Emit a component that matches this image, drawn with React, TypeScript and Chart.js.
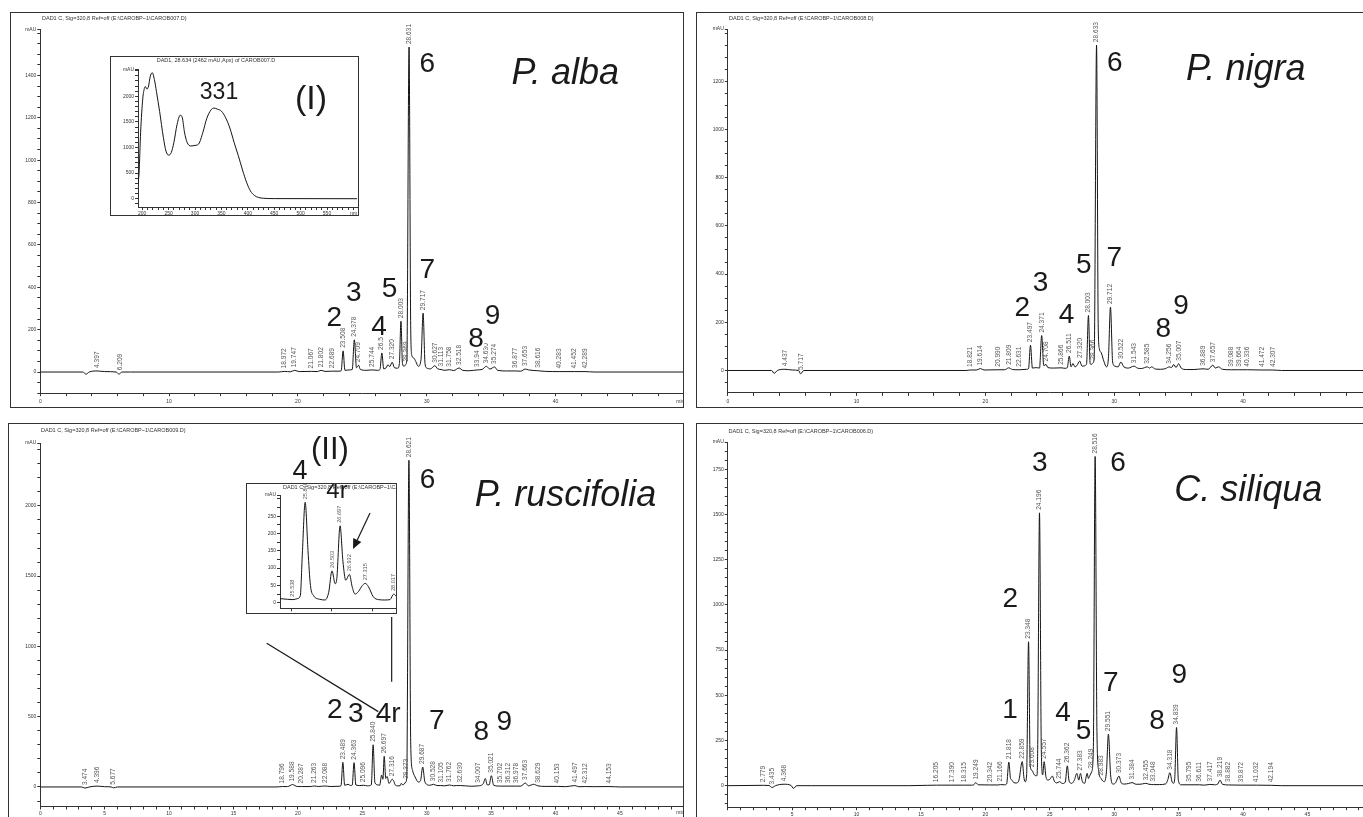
import React, { useEffect, useRef } from 'react';
import { Chart, registerables } from 'chart.js';

Chart.register(...registerables);

const SANS = '"Liberation Sans", Arial, Helvetica, sans-serif';
type Pair = [number, number];

// ---------------- P. alba (top left) ----------------
const albaTrace: Pair[] = [
  [0, 0], [3.3, 0], [3.55, -10], [3.8, 0], [4.4, 5], [5.0, 2], [5.9, 0], [6.1, -10], [6.35, 0], [7, 0],
  [18.5, 0], [18.97, 3], [19.4, 1], [19.75, 8], [20.1, 2], [21.07, 3], [21.5, 2], [21.8, 8], [22.1, 3],
  [22.69, 4], [23.2, 4], [23.36, 6], [23.51, 100], [23.65, 8], [24.0, 10], [24.22, 12], [24.38, 152],
  [24.55, 20], [24.71, 32], [24.85, 12], [25.3, 8], [25.74, 10], [26.2, 8], [26.37, 12], [26.52, 90],
  [26.66, 15], [26.85, 20], [27.0, 35], [27.12, 25], [27.32, 46], [27.5, 20], [27.75, 18], [27.88, 40],
  [28.0, 240], [28.12, 40], [28.25, 27], [28.37, 35], [28.46, 60], [28.63, 1534], [28.76, 200],
  [28.85, 78], [29.0, 66], [29.15, 50], [29.35, 27], [29.56, 60], [29.72, 278], [29.87, 40], [30.0, 19],
  [30.3, 15], [30.63, 30], [30.85, 15], [31.11, 12], [31.4, 8], [31.76, 11], [32.1, 7], [32.52, 19],
  [32.8, 8], [33.3, 6], [33.94, 10], [34.3, 12], [34.63, 27], [34.9, 14], [35.27, 24], [35.5, 8],
  [36.2, 5], [36.88, 5], [37.3, 4], [37.65, 14], [37.9, 10], [38.62, 6], [39.2, 3], [40.28, 2],
  [41.45, 2], [42.29, 2], [43, 0], [50, 0],
];
const albaRT = ['4.397', '6.209', '18.972', '19.747', '21.067', '21.802', '22.689', '23.508', '24.378',
  '24.709', '25.744', '26.5', '27.320', '28.003', '28.369', '28.631', '29.717', '30.627', '31.113',
  '31.758', '32.518', '33.94', '34.630', '35.274', '36.877', '37.653', '38.616', '40.283', '41.452', '42.289'];
const albaPeakNames = ['2', '3', '4', '5', '6', '7', '8', '9'];
const albaPeakTimes = [22.82, 24.33, 26.29, 27.12, 30.05, 30.05, 33.83, 35.11];
const albaPeakLevels = [252, 370, 209, 389, 1451, 481, 155, 263];

// ---------------- P. nigra (top right) ----------------
const nigraTrace: Pair[] = [
  [0, 0], [3.4, 0], [3.6, -12], [3.85, 0], [4.44, 5], [5.0, 2], [5.5, 0], [5.65, -14], [5.9, 0], [7, 0],
  [18.5, 0], [18.82, 2], [19.3, 2], [19.61, 8], [19.9, 2], [20.99, 3], [21.5, 3], [21.81, 11], [22.1, 4],
  [22.63, 3], [23.2, 5], [23.35, 8], [23.5, 105], [23.65, 10], [23.95, 12], [24.2, 10], [24.37, 145],
  [24.53, 20], [24.71, 25], [24.85, 12], [25.3, 10], [25.87, 11], [26.2, 9], [26.36, 12], [26.51, 60],
  [26.65, 15], [26.8, 29], [26.95, 15], [27.1, 20], [27.32, 39], [27.5, 18], [27.85, 25], [28.0, 228],
  [28.13, 30], [28.2, 25], [28.37, 32], [28.45, 60], [28.63, 1350], [28.76, 180], [28.85, 90], [29.0, 73],
  [29.2, 38], [29.4, 15], [29.55, 50], [29.71, 263], [29.88, 35], [30.05, 18], [30.3, 15], [30.52, 35],
  [30.75, 15], [31.1, 10], [31.54, 18], [31.8, 10], [32.1, 8], [32.58, 15], [32.75, 10], [32.9, 15],
  [33.2, 6], [33.6, 5], [34.0, 8], [34.26, 15], [34.45, 12], [34.62, 25], [34.8, 12], [35.0, 28],
  [35.2, 10], [35.6, 4], [36.2, 4], [36.89, 7], [37.3, 5], [37.66, 22], [37.85, 10], [38.1, 15],
  [38.4, 5], [39.09, 3], [39.66, 3], [40.34, 3], [41.47, 2], [42.31, 2], [43, 0], [50, 0],
];
const nigraRT = ['4.437', '5.717', '18.821', '19.614', '20.990', '21.809', '22.631', '23.497', '24.371',
  '24.708', '25.866', '26.511', '27.320', '28.003', '28.366', '28.633', '29.712', '30.522', '31.543',
  '32.585', '34.256', '35.007', '36.889', '37.657', '39.088', '39.664', '40.336', '41.472', '42.307'];
const nigraPeakNames = ['2', '3', '4', '5', '6', '7', '8', '9'];
const nigraPeakTimes = [22.86, 24.29, 26.29, 27.63, 30.05, 30.0, 33.82, 35.19];
const nigraPeakLevels = [259, 360, 229, 437, 1275, 464, 171, 268];

// ---------------- P. ruscifolia (bottom left) ----------------
const ruscTrace: Pair[] = [
  [0, 0], [3.2, 0], [3.47, -8], [3.8, 0], [4.4, 6], [5.0, 2], [5.5, 0], [5.68, -6], [6.0, 0],
  [18.3, 0], [18.8, 3], [19.2, 3], [19.59, 17], [19.95, 3], [20.29, 3], [21.0, 3], [21.26, 7], [21.6, 3],
  [22.09, 7], [22.5, 3], [23.2, 5], [23.35, 10], [23.49, 175], [23.63, 12], [23.9, 19], [24.1, 10],
  [24.22, 14], [24.36, 173], [24.5, 14], [24.8, 10], [25.1, 12], [25.4, 8], [25.7, 15], [25.84, 300],
  [25.98, 30], [26.2, 15], [26.35, 12], [26.5, 85], [26.6, 55], [26.7, 218], [26.82, 60], [26.93, 75],
  [27.07, 25], [27.15, 32], [27.32, 55], [27.45, 40], [27.55, 15], [27.75, 8], [27.93, 8], [28.02, 25],
  [28.15, 15], [28.25, 20], [28.37, 35], [28.45, 70], [28.62, 2324], [28.76, 300], [28.9, 118],
  [29.1, 71], [29.35, 35], [29.52, 45], [29.69, 142], [29.85, 40], [30.0, 19], [30.25, 12], [30.53, 19],
  [30.8, 10], [31.1, 10], [31.4, 8], [31.76, 14], [32.1, 8], [32.3, 10], [32.63, 10], [33.0, 8],
  [33.5, 5], [34.0, 8], [34.2, 10], [34.4, 25], [34.55, 60], [34.7, 15], [34.85, 15], [35.02, 80],
  [35.2, 12], [35.7, 6], [36.31, 6], [36.98, 6], [37.3, 6], [37.66, 28], [37.9, 8], [38.3, 19],
  [38.63, 8], [39.2, 4], [40.15, 4], [40.8, 2], [41.5, 10], [41.8, 2], [42.31, 3], [43, 2], [44.15, 3],
  [45, 0], [50, 0],
];
const ruscRT = ['3.474', '4.396', '5.677', '18.796', '19.588', '20.287', '21.263', '22.088', '23.489',
  '24.363', '25.096', '25.840', '26.697', '27.316', '28.373', '28.621', '29.687', '30.528', '31.105',
  '31.762', '32.630', '34.007', '35.021', '35.702', '36.312', '36.978', '37.663', '38.629', '40.153',
  '41.497', '42.312', '44.153'];
const ruscPeakNames = ['2', '3', '4r', '6', '7', '8', '9', '4', '(II)'];
const ruscPeakTimes = [22.86, 24.49, 27.01, 30.06, 30.78, 34.23, 36.03, 20.16, 22.49];
const ruscPeakLevels = [544, 520, 520, 2183, 466, 390, 461, 2247, 2397];

// inset (II): zoom of 25.2 - 28.1 min
const ruscZoomTrace: Pair[] = [
  [25.22, 12], [25.4, 10], [25.54, 9], [25.65, 12], [25.72, 20], [25.77, 140], [25.84, 290], [25.91, 150],
  [25.97, 50], [26.05, 20], [26.2, 10], [26.33, 8], [26.42, 30], [26.5, 92], [26.58, 55], [26.62, 70],
  [26.7, 222], [26.77, 120], [26.84, 65], [26.93, 82], [27.0, 45], [27.07, 25], [27.15, 32], [27.25, 50],
  [27.32, 56], [27.4, 46], [27.52, 17], [27.65, 9], [27.8, 8], [27.93, 9], [28.02, 25], [28.1, 17],
];
const ruscZoomRT = ['25.538', '25.840', '26.503', '26.697', '26.932', '27.315', '28.017'];

// ---------------- C. siliqua (bottom right) ----------------
const siliTrace: Pair[] = [
  [0, 0], [2.78, 2], [3.2, 1], [3.44, -10], [3.7, 0], [4.37, 8], [4.9, 2], [5.1, -15], [5.35, 0], [6.5, 0],
  [14, 0], [15.5, 2], [16.2, 3], [17.39, 3], [18.32, 3], [18.9, 3], [19.1, 5], [19.25, 17], [19.45, 5],
  [20.34, 4], [21.0, 4], [21.17, 6], [21.5, 5], [21.65, 10], [21.82, 130], [21.95, 40], [22.05, 32],
  [22.2, 17], [22.4, 15], [22.6, 30], [22.86, 133], [23.0, 40], [23.1, 22], [23.2, 60], [23.35, 796],
  [23.48, 110], [23.61, 85], [23.8, 60], [24.0, 55], [24.06, 200], [24.2, 1509], [24.34, 200],
  [24.45, 60], [24.56, 133], [24.7, 50], [24.85, 31], [25.0, 35], [25.2, 53], [25.35, 25], [25.55, 15],
  [25.74, 22], [26.0, 12], [26.2, 20], [26.36, 110], [26.5, 25], [26.7, 13], [26.9, 30], [27.1, 68],
  [27.25, 31], [27.38, 68], [27.52, 25], [27.7, 13], [27.9, 68], [28.0, 40], [28.1, 55], [28.25, 77],
  [28.38, 200], [28.52, 1821], [28.66, 300], [28.8, 80], [28.98, 40], [29.23, 22], [29.4, 80],
  [29.55, 285], [29.72, 60], [29.9, 9], [30.1, 15], [30.37, 53], [30.55, 15], [30.8, 9], [31.1, 12],
  [31.38, 17], [31.7, 8], [32.0, 8], [32.2, 10], [32.46, 13], [32.7, 8], [33.05, 6], [33.5, 6],
  [34.0, 10], [34.15, 30], [34.32, 72], [34.5, 20], [34.6, 13], [34.7, 40], [34.84, 322], [34.98, 30],
  [35.2, 5], [35.8, 5], [36.61, 5], [37.0, 3], [37.42, 7], [37.8, 5], [38.05, 10], [38.22, 31],
  [38.4, 8], [38.88, 4], [39.87, 3], [41.03, 3], [42.19, 2], [43, 0], [50, 0],
];
const siliRT = ['2.779', '3.435', '4.368', '16.205', '17.390', '18.315', '19.249', '20.342', '21.166',
  '21.818', '22.859', '23.348', '23.608', '24.196', '24.557', '25.744', '26.362', '27.383', '28.249',
  '28.516', '28.983', '29.551', '30.373', '31.384', '32.455', '33.048', '34.318', '34.839', '35.795',
  '36.611', '37.417', '38.219', '38.882', '39.872', '41.032', '42.194'];
const siliPeakNames = ['1', '2', '3', '4', '5', '6', '7', '8', '9'];
const siliPeakTimes = [21.92, 21.93, 24.23, 26.03, 27.62, 30.3, 29.74, 33.33, 35.05];
const siliPeakLevels = [419, 1031, 1784, 400, 299, 1784, 566, 355, 613];

// ---------------- inset (I): UV spectrum ----------------
const uvSpectrum: Pair[] = [
  [192, 300], [194, 500], [197, 1300], [201, 1950], [204, 2150], [206, 2190], [209, 2140], [212, 2200],
  [215, 2380], [219, 2460], [223, 2330], [227, 2090], [233, 1700], [240, 1200], [245, 930], [250, 850],
  [255, 900], [260, 1100], [266, 1450], [272, 1630], [276, 1580], [280, 1300], [285, 1100], [292, 1030],
  [300, 1040], [307, 1070], [315, 1300], [322, 1560], [330, 1730], [336, 1770], [342, 1750], [350, 1710],
  [358, 1580], [366, 1380], [374, 1100], [382, 840], [390, 560], [398, 310], [405, 150], [413, 60],
  [420, 25], [430, 8], [450, 2], [607, 0],
];
const uvNames = ['331', '(I)'];
const uvNameWavelengths = [345.4, 519.6];
const uvNameLevels = [2070, 1928];

// ---------------- types & helpers ----------------
interface AxisSpec {
  min: number; max: number; ticks: number[]; label: (v: number) => string; font: number; end?: string;
}
interface NumLabel { text: string; t: number; v: number; size: number; knock: boolean; }
interface PageText {
  text: string; x: number; y: number; font: string; color: string;
  align: CanvasTextAlign; baseline: CanvasTextBaseline;
}
interface Spec {
  box: { left: number; top: number; width: number; height: number };
  plot: { left: number; right: number; top: number; bottom: number };
  yw: number; xh: number; z: number; xpad: number;
  x: AxisSpec; y: AxisSpec;
  trace: Pair[];
  rt: string[]; rtSize: number;
  nums: NumLabel[];
  texts: PageText[];
  lines: { t1: number; v1: number; t2: number; v2: number }[];
  arrows: { x1: number; y1: number; x2: number; y2: number }[];
}

const isMult = (v: number, m: number) => Math.abs(v / m - Math.round(v / m)) < 1e-6;
function stepTicks(min: number, max: number, step: number, withMax: boolean): number[] {
  const out: number[] = [];
  for (let v = Math.ceil(min / step - 1e-9) * step; v <= max + 1e-9; v += step) out.push(+v.toFixed(6));
  if (withMax && Math.abs(out[out.length - 1] - max) > 1e-6) out.push(max);
  return out;
}
function yAxis(min: number, max: number, step: number, major: number, labelMax: number, font: number): AxisSpec {
  return {
    min, max, font, ticks: stepTicks(min, max, step, true),
    label: (v) => (Math.abs(v - max) < 1e-6 ? 'mAU' : v >= 0 && v <= labelMax + 1e-6 && isMult(v, major) ? String(v) : ''),
  };
}
function xAxis(min: number, max: number, step: number, major: number, labelMin: number, labelMax: number, font: number, end: string): AxisSpec {
  return {
    min, max, font, end, ticks: stepTicks(min, max, step, false),
    label: (v) => (v >= labelMin - 1e-6 && v <= labelMax + 1e-6 && isMult(v, major) ? String(v) : ''),
  };
}
function numLabels(names: string[], times: number[], levels: number[], size: number, knock: boolean): NumLabel[] {
  return names.map((text, i) => ({ text, t: times[i], v: levels[i], size, knock }));
}
function interp(tr: Pair[], t: number): number {
  for (let i = 1; i < tr.length; i++) {
    if (tr[i][0] >= t) {
      const [t0, v0] = tr[i - 1];
      const [t1, v1] = tr[i];
      return v0 + ((v1 - v0) * (t - t0)) / (t1 - t0 || 1);
    }
  }
  return 0;
}
const titleText = (x: number, y: number, text: string, align: CanvasTextAlign = 'left'): PageText => ({
  text, x, y, font: `5.5px ${SANS}`, color: '#333', align, baseline: 'middle',
});
const speciesText = (x: number, y: number, text: string): PageText => ({
  text, x, y, font: `italic 36px ${SANS}`, color: '#1a1a1a', align: 'left', baseline: 'alphabetic',
});

// ---------------- panel specs ----------------
const MAIN_FONT = 5;
const specs: Spec[] = [
  {
    box: { left: 10, top: 12, width: 674, height: 396 },
    plot: { left: 40.3, right: 684.3, top: 29.9, bottom: 393.2 }, yw: 26, xh: 14, z: 1, xpad: 2.5,
    x: xAxis(0, 50, 2, 10, 0, 40, MAIN_FONT, 'min'),
    y: yAxis(-100, 1615, 50, 200, 1400, MAIN_FONT),
    trace: albaTrace, rt: albaRT, rtSize: 6.6,
    nums: numLabels(albaPeakNames, albaPeakTimes, albaPeakLevels, 28, true),
    texts: [titleText(42, 18.5, 'DAD1 C, Sig=320,8 Ref=off (E:\\CAROBP~1\\CAROB007.D)'), speciesText(511.5, 84, 'P. alba')],
    lines: [], arrows: [],
  },
  {
    box: { left: 696, top: 12, width: 700, height: 396 },
    plot: { left: 727.8, right: 1371.8, top: 29, bottom: 392.9 }, yw: 26, xh: 14, z: 1, xpad: 2.5,
    x: xAxis(0, 50, 2, 10, 0, 40, MAIN_FONT, 'min'),
    y: yAxis(-93, 1417, 50, 200, 1200, MAIN_FONT),
    trace: nigraTrace, rt: nigraRT, rtSize: 6.6,
    nums: numLabels(nigraPeakNames, nigraPeakTimes, nigraPeakLevels, 28, true),
    texts: [titleText(729, 18, 'DAD1 C, Sig=320,8 Ref=off (E:\\CAROBP~1\\CAROB008.D)'), speciesText(1186, 80, 'P. nigra')],
    lines: [], arrows: [],
  },
  {
    box: { left: 8, top: 423, width: 676, height: 410 },
    plot: { left: 40.3, right: 684.3, top: 443, bottom: 806.5 }, yw: 26, xh: 14, z: 1, xpad: 1,
    x: xAxis(0, 50, 1, 5, 0, 45, MAIN_FONT, 'min'),
    y: yAxis(-139, 2447, 100, 500, 2000, MAIN_FONT),
    trace: ruscTrace, rt: ruscRT, rtSize: 6.6,
    nums: [
      ...numLabels(ruscPeakNames.slice(0, 7), ruscPeakTimes.slice(0, 7), ruscPeakLevels.slice(0, 7), 28, true),
      ...numLabels(ruscPeakNames.slice(7, 8), ruscPeakTimes.slice(7, 8), ruscPeakLevels.slice(7, 8), 27, false),
      ...numLabels(ruscPeakNames.slice(8), ruscPeakTimes.slice(8), ruscPeakLevels.slice(8), 31, false),
    ],
    texts: [titleText(41, 430, 'DAD1 C, Sig=320,8 Ref=off (E:\\CAROBP~1\\CAROB009.D)'), speciesText(474.8, 506, 'P. ruscifolia')],
    lines: [
      { t1: 17.58, v1: 1022, t2: 26.24, v2: 536 },
      { t1: 27.28, v1: 1209, t2: 27.28, v2: 749 },
    ],
    arrows: [],
  },
  {
    box: { left: 696, top: 423, width: 700, height: 410 },
    plot: { left: 727.8, right: 1371.8, top: 442, bottom: 807.2 }, yw: 26, xh: 14, z: 1, xpad: 1,
    x: xAxis(0, 50, 1, 5, 5, 45, MAIN_FONT, 'min'),
    y: yAxis(-119, 1901, 50, 250, 1750, MAIN_FONT),
    trace: siliTrace, rt: siliRT, rtSize: 6.6,
    nums: numLabels(siliPeakNames, siliPeakTimes, siliPeakLevels, 28, true),
    texts: [titleText(728.5, 431, 'DAD1 C, Sig=320,8 Ref=off (E:\\CAROBP~1\\CAROB006.D)'), speciesText(1174.3, 501, 'C. siliqua')],
    lines: [], arrows: [],
  },
  {
    box: { left: 110, top: 56, width: 249, height: 160 },
    plot: { left: 138, right: 357.1, top: 69.5, bottom: 207 }, yw: 20, xh: 8, z: 2, xpad: 1,
    x: xAxis(192, 607, 10, 50, 200, 550, 5, 'nm'),
    y: yAxis(-162, 2523, 100, 500, 2000, 5),
    trace: uvSpectrum, rt: [], rtSize: 6,
    nums: [
      ...numLabels(uvNames.slice(0, 1), uvNameWavelengths.slice(0, 1), uvNameLevels.slice(0, 1), 23, false),
      ...numLabels(uvNames.slice(1), uvNameWavelengths.slice(1), uvNameLevels.slice(1), 34, false),
    ],
    texts: [titleText(216, 60.5, 'DAD1, 28.634 (2462 mAU,Apx) of CAROB007.D', 'center')],
    lines: [], arrows: [],
  },
  {
    box: { left: 246, top: 483, width: 151, height: 131 },
    plot: { left: 280, right: 396.9, top: 495, bottom: 608.3 }, yw: 20, xh: 8, z: 2, xpad: 1,
    x: { min: 25.22, max: 28.1, ticks: [25.5, 26.5, 27.5], label: (v) => (v === 25.5 ? '25.5' : ''), font: 5, end: 'min' },
    y: yAxis(-16, 311, 25, 50, 250, 5),
    trace: ruscZoomTrace, rt: ruscZoomRT, rtSize: 5.6,
    nums: [],
    texts: [
      titleText(283, 487.5, 'DAD1 C, Sig=320,8 Ref=off (E:\\CAROBP~1\\CAROB009.D)'),
      { text: '4r', x: 337, y: 491, font: `24px ${SANS}`, color: '#1a1a1a', align: 'center', baseline: 'middle' },
    ],
    lines: [],
    arrows: [{ x1: 370, y1: 513, x2: 353, y2: 549 }],
  },
];

// ---------------- chart building ----------------
function makeAnnotPlugin(spec: Spec, cl: number, ct: number) {
  return {
    id: 'annot',
    afterDraw(chart: any) {
      const ctx: CanvasRenderingContext2D = chart.ctx;
      const xs = chart.scales.x;
      const ys = chart.scales.y;
      ctx.save();
      // retention-time labels, rotated
      ctx.font = `${spec.rtSize}px ${SANS}`;
      ctx.fillStyle = '#555';
      ctx.textAlign = 'left';
      ctx.textBaseline = 'middle';
      for (const s of spec.rt) {
        const t = parseFloat(s);
        let v = interp(spec.trace, t);
        for (const [pt, pv] of spec.trace) if (Math.abs(pt - t) <= 0.07) v = Math.max(v, pv);
        const px = xs.getPixelForValue(t);
        const py = ys.getPixelForValue(v) - 3;
        ctx.save();
        ctx.translate(px, py);
        ctx.rotate(-Math.PI / 2);
        ctx.fillText(s, 0, 0);
        ctx.restore();
      }
      // peak numbers
      ctx.textAlign = 'center';
      ctx.textBaseline = 'middle';
      for (const n of spec.nums) {
        ctx.font = `${n.size}px ${SANS}`;
        const px = xs.getPixelForValue(n.t);
        const py = ys.getPixelForValue(n.v);
        if (n.knock) {
          const m = ctx.measureText(n.text);
          ctx.fillStyle = '#fff';
          ctx.fillRect(px - m.actualBoundingBoxLeft - 1, py - m.actualBoundingBoxAscent - 1,
            m.actualBoundingBoxLeft + m.actualBoundingBoxRight + 2, m.actualBoundingBoxAscent + m.actualBoundingBoxDescent + 2);
        }
        ctx.fillStyle = '#1a1a1a';
        ctx.fillText(n.text, px, py);
      }
      // free texts (page coordinates)
      for (const tx of spec.texts) {
        ctx.font = tx.font;
        ctx.fillStyle = tx.color;
        ctx.textAlign = tx.align;
        ctx.textBaseline = tx.baseline;
        ctx.fillText(tx.text, tx.x - cl, tx.y - ct);
      }
      // axis end label
      if (spec.x.end) {
        ctx.font = `${spec.x.font}px ${SANS}`;
        ctx.fillStyle = '#333';
        ctx.textAlign = 'right';
        ctx.textBaseline = 'top';
        ctx.fillText(spec.x.end, xs.right, ys.bottom + 3 + spec.xpad);
      }
      // lines in data coordinates
      ctx.strokeStyle = '#1a1a1a';
      ctx.lineWidth = 1.2;
      for (const l of spec.lines) {
        ctx.beginPath();
        ctx.moveTo(xs.getPixelForValue(l.t1), ys.getPixelForValue(l.v1));
        ctx.lineTo(xs.getPixelForValue(l.t2), ys.getPixelForValue(l.v2));
        ctx.stroke();
      }
      // arrows in page coordinates
      for (const a of spec.arrows) {
        const x1 = a.x1 - cl, y1 = a.y1 - ct, x2 = a.x2 - cl, y2 = a.y2 - ct;
        const ang = Math.atan2(y2 - y1, x2 - x1);
        const hl = 10, hw = 4.5;
        const bx = x2 - hl * Math.cos(ang), by = y2 - hl * Math.sin(ang);
        ctx.beginPath();
        ctx.moveTo(x1, y1);
        ctx.lineTo(bx, by);
        ctx.stroke();
        ctx.beginPath();
        ctx.moveTo(x2, y2);
        ctx.lineTo(bx + hw * Math.sin(ang), by - hw * Math.cos(ang));
        ctx.lineTo(bx - hw * Math.sin(ang), by + hw * Math.cos(ang));
        ctx.closePath();
        ctx.fillStyle = '#1a1a1a';
        ctx.fill();
      }
      ctx.restore();
    },
  };
}

function geometry(spec: Spec) {
  const cl = spec.box.left + 1;
  const ct = spec.box.top + 1;
  const cw = Math.ceil(spec.plot.right + 25 - cl);
  const ch = Math.ceil(spec.plot.bottom + spec.xh + 6 - ct);
  const padding = {
    left: spec.plot.left - spec.yw - cl,
    top: spec.plot.top - ct,
    right: cl + cw - spec.plot.right,
    bottom: ct + ch - spec.plot.bottom - spec.xh,
  };
  return { cl, ct, cw, ch, padding };
}

function buildConfig(spec: Spec): any {
  const { cl, ct, padding } = geometry(spec);
  const axisCommon = (a: AxisSpec, pad: number) => ({
    type: 'linear',
    min: a.min,
    max: a.max,
    bounds: 'data',
    afterBuildTicks: (scale: any) => {
      scale.ticks = a.ticks.map((value) => ({ value }));
    },
    grid: { display: true, drawOnChartArea: false, drawTicks: true, tickLength: 3, tickColor: '#333', color: '#333', lineWidth: 1 },
    border: { display: true, color: '#333', width: 1 },
    ticks: {
      autoSkip: false, maxRotation: 0, minRotation: 0, padding: pad,
      color: '#333', font: { size: a.font, family: SANS },
      callback: (value: number) => a.label(Number(value)),
    },
  });
  return {
    type: 'line',
    data: {
      datasets: [{
        data: spec.trace.map(([x, y]) => ({ x, y })),
        borderColor: '#151515',
        borderWidth: 1,
        pointRadius: 0,
        fill: false,
        cubicInterpolationMode: 'monotone',
      }],
    },
    options: {
      animation: false,
      responsive: false,
      maintainAspectRatio: false,
      events: [],
      layout: { padding },
      plugins: { legend: { display: false }, tooltip: { enabled: false }, title: { display: false } },
      scales: {
        x: { ...axisCommon(spec.x, spec.xpad), position: 'bottom', afterFit: (s: any) => { s.height = spec.xh; } },
        y: { ...axisCommon(spec.y, 1), position: 'left', afterFit: (s: any) => { s.width = spec.yw; } },
      },
    },
    plugins: [makeAnnotPlugin(spec, cl, ct)],
  };
}

function ChartBox({ spec }: { spec: Spec }) {
  const ref = useRef<HTMLCanvasElement>(null);
  const { cl, ct, cw, ch } = geometry(spec);
  useEffect(() => {
    const chart = new Chart(ref.current as HTMLCanvasElement, buildConfig(spec));
    return () => chart.destroy();
  }, [spec]);
  return (
    <div
      style={{
        position: 'absolute', left: spec.box.left, top: spec.box.top, width: spec.box.width, height: spec.box.height,
        border: '1px solid #333', boxSizing: 'border-box', overflow: 'hidden', background: '#fff', zIndex: spec.z,
      }}
    >
      <canvas
        ref={ref}
        width={cw}
        height={ch}
        style={{ position: 'absolute', left: cl - spec.box.left - 1, top: ct - spec.box.top - 1, width: cw, height: ch }}
      />
    </div>
  );
}

export default function App() {
  return (
    <div style={{ position: 'fixed', left: 0, top: 0, width: 1363, height: 817, overflow: 'hidden', background: '#fff' }}>
      {specs.map((s, i) => (
        <ChartBox key={i} spec={s} />
      ))}
    </div>
  );
}
